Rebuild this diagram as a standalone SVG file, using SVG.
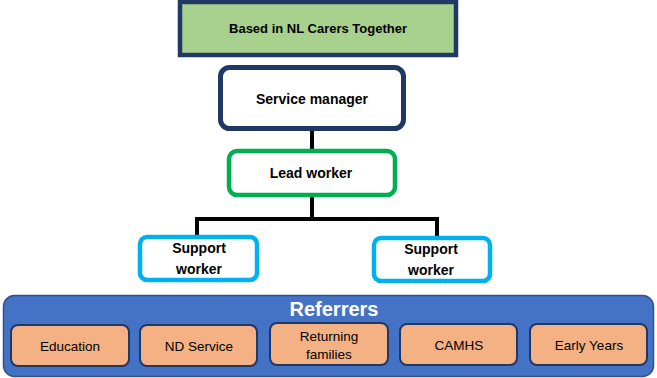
<svg xmlns="http://www.w3.org/2000/svg" width="657" height="378" viewBox="0 0 657 378">
<style>
.t{font-family:"Liberation Sans",Arial,sans-serif;font-weight:bold;fill:#000;text-anchor:middle;dominant-baseline:central}
.s{font-family:"Liberation Sans",Arial,sans-serif;font-size:13.5px;fill:#000;text-anchor:middle;dominant-baseline:central}
.ref{fill:#f4b183;stroke:#203864;stroke-width:2}
.sup{fill:#fff;stroke:#00b0f0;stroke-width:4.5}
.conn{fill:none;stroke:#000;stroke-width:4;stroke-linejoin:miter}
</style>
<rect width="657" height="378" fill="#fff"/>
<g id="connectors">
<line class="conn" x1="312" y1="130" x2="312" y2="151"/>
<polyline class="conn" points="312,197 312,219 197,219 197,237"/>
<polyline class="conn" points="312,219 437,219 437,237"/>
</g>
<g id="based">
<rect x="180" y="2" width="276" height="53" fill="#a9d18e" stroke="#1f3864" stroke-width="4.5"/>
<text class="t" x="318" y="28" font-size="13">Based in NL Carers Together</text>
</g>
<g id="service-manager">
<rect x="220.5" y="67.5" width="183" height="61" rx="9" fill="#fff" stroke="#1f3864" stroke-width="5"/>
<text class="t" x="312" y="99" font-size="14">Service manager</text>
</g>
<g id="lead-worker">
<rect x="229" y="151" width="166" height="44" rx="8" fill="#fff" stroke="#00b050" stroke-width="4.5"/>
<text class="t" x="311" y="173" font-size="14">Lead worker</text>
</g>
<g id="support-1">
<rect class="sup" x="140" y="237" width="117" height="43" rx="7"/>
<text class="t" x="199" y="248" font-size="14">Support</text>
<text class="t" x="199" y="269" font-size="14">worker</text>
</g>
<g id="support-2">
<rect class="sup" x="374" y="238" width="116" height="43" rx="7"/>
<text class="t" x="431" y="249" font-size="14">Support</text>
<text class="t" x="431" y="270" font-size="14">worker</text>
</g>
<g id="referrers">
<rect x="3.5" y="295.5" width="650" height="81" rx="11" fill="#4472c4" stroke="#2f528f" stroke-width="1.5"/>
<text class="t" x="334" y="309" font-size="20" style="fill:#fff">Referrers</text>
</g>
<g id="education">
<rect class="ref" x="11" y="325" width="118" height="41" rx="7"/>
<text class="s" x="70" y="346">Education</text>
</g>
<g id="nd-service">
<rect class="ref" x="140" y="325" width="117" height="41" rx="7"/>
<text class="s" x="199" y="346">ND Service</text>
</g>
<g id="returning-families">
<rect class="ref" x="270" y="323" width="118" height="42" rx="7"/>
<text class="s" x="329" y="336">Returning</text>
<text class="s" x="329" y="354">families</text>
</g>
<g id="camhs">
<rect class="ref" x="400" y="324" width="117" height="41" rx="7"/>
<text class="s" x="459" y="345">CAMHS</text>
</g>
<g id="early-years">
<rect class="ref" x="530" y="324" width="117" height="41" rx="7"/>
<text class="s" x="589" y="345">Early Years</text>
</g>
</svg>
